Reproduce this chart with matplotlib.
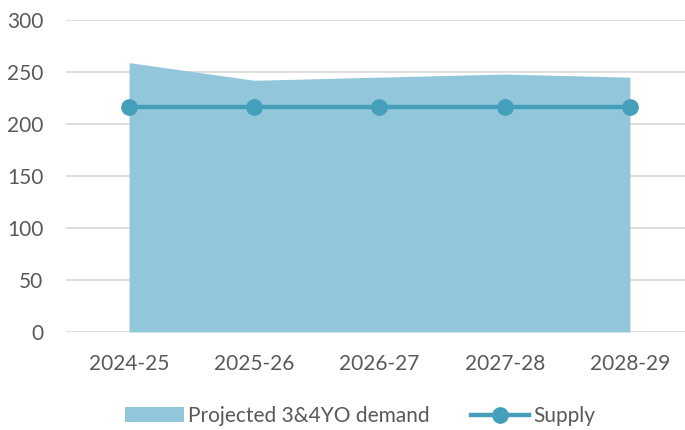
import matplotlib
matplotlib.use("Agg")
import matplotlib.pyplot as plt
from matplotlib.patches import Patch
from matplotlib.lines import Line2D

categories = ["2024-25", "2025-26", "2026-27", "2027-28", "2028-29"]
demand = [259, 242, 245, 248, 245]
supply = [216, 216, 216, 216, 216]

plt.rcParams['font.family'] = ['Lato', 'DejaVu Sans']
text_color = "#595959"
area_color = "#92C7DB"
line_color = "#459FBB"

fig = plt.figure(figsize=(6.85, 4.30), dpi=100)
ax = fig.add_axes([66.4/685, 0.228, (685-66.4)/685, 0.7256])

x = list(range(len(categories)))
ax.fill_between(x, 0, demand, color=area_color, linewidth=0, zorder=2)
ax.plot(x, supply, color=line_color, linewidth=3.2, marker='o', markersize=11, zorder=3)

ax.set_xlim(-0.5, 4.44)
ax.set_ylim(0, 300)
ax.set_yticks(range(0, 301, 50))
ax.set_xticks(x)
ax.set_xticklabels(categories)
ax.grid(axis='y', color="#D9D9D9", linewidth=1.2, zorder=0)
ax.set_axisbelow(True)
for s in ax.spines.values():
    s.set_visible(False)
ax.tick_params(axis='both', length=0, colors=text_color, labelsize=15)
ax.tick_params(axis='x', pad=16)
ax.tick_params(axis='y', pad=16.5)

handles = [Patch(facecolor=area_color, edgecolor='none'),
           Line2D([0], [0], color=line_color, linewidth=3.2, marker='o', markersize=11)]
fig.legend(handles, ["Projected 3&4YO demand", "Supply"], loc='center',
           bbox_to_anchor=(360.5/685, 1-416/430), ncol=2, frameon=False,
           fontsize=15, labelcolor=text_color, handlelength=2.8, handletextpad=0.2,
           columnspacing=2.0)

fig.savefig("out.png", dpi=100)
